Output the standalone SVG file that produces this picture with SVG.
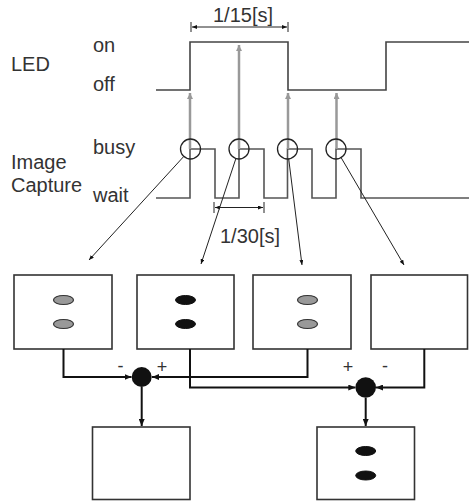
<svg xmlns="http://www.w3.org/2000/svg" width="469" height="501" viewBox="0 0 469 501">
<defs>
<marker id="ah" markerWidth="7" markerHeight="6" refX="7" refY="3" orient="auto-start-reverse" markerUnits="userSpaceOnUse"><path d="M0,0 L7,3 L0,6 z" fill="#111"/></marker>
<marker id="ahs" markerWidth="5" markerHeight="4" refX="5" refY="2" orient="auto-start-reverse" markerUnits="userSpaceOnUse"><path d="M0,0 L5,2 L0,4 z" fill="#111"/></marker>
<marker id="ahg" markerWidth="6" markerHeight="6" refX="6" refY="3" orient="auto" markerUnits="userSpaceOnUse"><path d="M0,0 L6,3 L0,6 z" fill="#999"/></marker>
</defs>
<style>
text{font-family:"Liberation Sans",Arial,sans-serif;fill:#333;font-size:20px}
.sign{font-size:18px}
.box{fill:#fff;stroke:#333;stroke-width:1.6}
.eg{fill:#999;stroke:#333;stroke-width:1.2}
.eb{fill:#111;stroke:#111;stroke-width:1}
.sig{fill:none;stroke:#555;stroke-width:1.6}
.led{fill:none;stroke:#444;stroke-width:1.6}
.garr{stroke:#999;stroke-width:2.5;fill:none}
.con{fill:none;stroke:#111;stroke-width:2}
.thin{fill:none;stroke:#222;stroke-width:1}
.sum{fill:#111}
.cap{fill:none;stroke:#222;stroke-width:1.3}
</style>
<g id="labels">
<text x="11" y="71">LED</text>
<text x="93" y="52">on</text>
<text x="93" y="91">off</text>
<text x="93" y="154">busy</text>
<text x="11" y="169">Image</text>
<text x="11" y="192">Capture</text>
<text x="93" y="202">wait</text>
<text x="243" y="22" text-anchor="middle">1/15[s]</text>
<text x="220" y="243">1/30[s]</text>
</g>
<g id="timing">
<path class="led" d="M156,90 H190 V42 H288 V90 H386 V42 H469"/>
<path class="sig" d="M156,198 H190 V149 H215 V198 H239 V149 H264 V198 H287.5 V149 H312 V198 H336 V149 H361 V198 H469"/>
<path class="thin" d="M191,22 V32 M288,22 V32 M214,202 V213 M264,202 V213"/>
<line class="thin" x1="192" y1="27" x2="287" y2="27" marker-start="url(#ahs)" marker-end="url(#ahs)"/>
<line class="thin" x1="215" y1="207.5" x2="263" y2="207.5" marker-start="url(#ahs)" marker-end="url(#ahs)"/>
<line class="garr" x1="190" y1="149" x2="190" y2="93" marker-end="url(#ahg)"/>
<line class="garr" x1="239" y1="149" x2="239" y2="45" marker-end="url(#ahg)"/>
<line class="garr" x1="288" y1="149" x2="288" y2="93" marker-end="url(#ahg)"/>
<line class="garr" x1="336.5" y1="149" x2="336.5" y2="93" marker-end="url(#ahg)"/>
<circle class="cap" cx="190.5" cy="149" r="10"/>
<circle class="cap" cx="239" cy="149" r="10"/>
<circle class="cap" cx="287.5" cy="149" r="10"/>
<circle class="cap" cx="336" cy="149" r="10"/>
</g>
<g id="box1"><rect class="box" x="14" y="275" width="98" height="74"/><ellipse class="eg" cx="63.5" cy="300" rx="10" ry="4.5"/><ellipse class="eg" cx="63.5" cy="324" rx="10" ry="4.5"/></g>
<g id="box2"><rect class="box" x="137" y="275" width="97" height="74"/><ellipse class="eb" cx="185.5" cy="300" rx="10" ry="4.5"/><ellipse class="eb" cx="185.5" cy="324" rx="10" ry="4.5"/></g>
<g id="box3"><rect class="box" x="253" y="275" width="98" height="74"/><ellipse class="eg" cx="307.5" cy="300" rx="10" ry="4.5"/><ellipse class="eg" cx="307.5" cy="324" rx="10" ry="4.5"/></g>
<g id="box4"><rect class="box" x="371" y="275" width="96.5" height="74"/></g>
<g id="box5"><rect class="box" x="92.5" y="427" width="97.5" height="72.5"/></g>
<g id="box6"><rect class="box" x="317" y="427" width="97.5" height="72.5"/><ellipse class="eb" cx="365.7" cy="451" rx="10" ry="4.5"/><ellipse class="eb" cx="365.7" cy="475.5" rx="10" ry="4.5"/></g>
<g id="sum1"><circle class="sum" cx="141.7" cy="377" r="10"/><text class="sign" x="120.5" y="372" text-anchor="middle">-</text><text class="sign" x="162" y="373" text-anchor="middle">+</text></g>
<g id="sum2"><circle class="sum" cx="365.7" cy="387.5" r="10.3"/><text class="sign" x="348" y="373" text-anchor="middle">+</text><text class="sign" x="385" y="372" text-anchor="middle">-</text></g>
<g id="connectors">
<line class="thin" x1="183.8" y1="156.4" x2="89" y2="260" marker-end="url(#ahs)"/>
<line class="thin" x1="235.9" y1="158.5" x2="201" y2="264" marker-end="url(#ahs)"/>
<line class="thin" x1="288.7" y1="158.9" x2="302" y2="265" marker-end="url(#ahs)"/>
<line class="thin" x1="341.1" y1="157.6" x2="404" y2="265" marker-end="url(#ahs)"/>
<path class="con" d="M63.5,349 V377 H131.5" marker-end="url(#ah)"/>
<path class="con" d="M307.5,349 V377 H152" marker-end="url(#ah)"/>
<path class="con" d="M190,349 V387.5 H355.3" marker-end="url(#ah)"/>
<path class="con" d="M424.3,349 V387.5 H376" marker-end="url(#ah)"/>
<path class="con" d="M141.7,387 V426" marker-end="url(#ah)"/>
<path class="con" d="M365.7,397.8 V426" marker-end="url(#ah)"/>
</g>
</svg>
